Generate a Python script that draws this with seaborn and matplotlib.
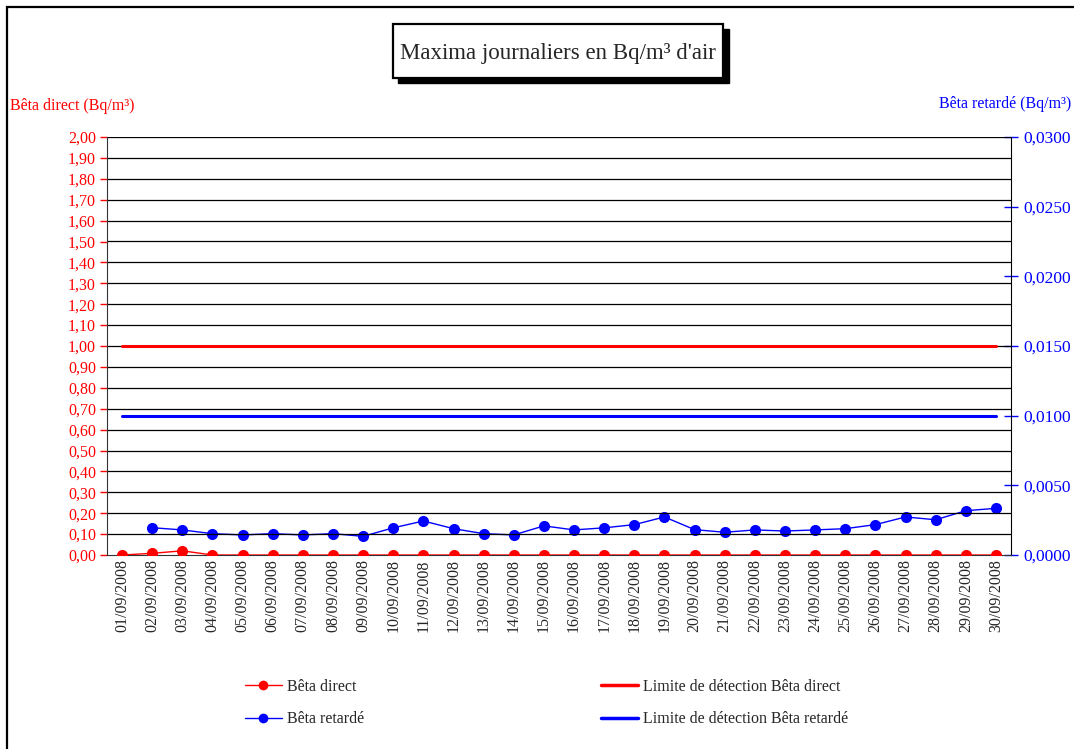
import numpy as np
import pandas as pd
import matplotlib
matplotlib.use("Agg")
import matplotlib.pyplot as plt
import seaborn as sns
from matplotlib.patches import Rectangle
from matplotlib.lines import Line2D
from matplotlib.ticker import FuncFormatter, MultipleLocator

# ---------------- data ----------------
dates = ["%02d/09/2008" % d for d in range(1, 31)]

beta_direct = [0.000, 0.008, 0.020, 0.000, 0.000, 0.000, 0.000, 0.000, 0.000, 0.000,
               0.000, 0.000, 0.000, 0.000, 0.000, 0.000, 0.000, 0.000, 0.000, 0.000,
               0.000, 0.000, 0.000, 0.000, 0.000, 0.000, 0.000, 0.000, 0.000, 0.000]

beta_retarde = [np.nan, 0.00196, 0.00180, 0.00153, 0.00144, 0.00153, 0.00144, 0.00153, 0.00134, 0.00195,
                0.00244, 0.00189, 0.00153, 0.00144, 0.00209, 0.00180, 0.00195, 0.00218, 0.00273, 0.00182,
                0.00163, 0.00180, 0.00172, 0.00180, 0.00189, 0.00218, 0.00273, 0.00253, 0.00318, 0.00335]

limite_direct = 1.0
limite_retarde = 0.0100

df = pd.DataFrame({
    "pos": np.arange(len(dates)),
    "date": dates,
    "direct": beta_direct,
    "retarde": beta_retarde,
    "lim_direct": limite_direct,
    "lim_retarde": limite_retarde,
})

# ---------------- style ----------------
sns.set_style("white")
plt.rcParams["font.family"] = ["Liberation Serif", "DejaVu Serif"]

W, H = 1074, 749
fig = plt.figure(figsize=(W / 100, H / 100), dpi=100)
ax = fig.add_axes([107 / W, 1 - 555 / H, (1011 - 107) / W, (555 - 137) / H])
ax2 = ax.twinx()

# outer frame of the chart
fig.patches.append(Rectangle((7 / W, -0.01), 1.2, 1 - 7 / H + 0.01, transform=fig.transFigure,
                             fill=False, edgecolor="black", linewidth=1.6, zorder=0))

# grid lines
for v in np.arange(0.1, 2.01, 0.1):
    ax.axhline(v, color="black", linewidth=0.9, zorder=0)

# left axis: Bêta direct
sns.lineplot(data=df, x="pos", y="lim_direct", ax=ax, color="#ff0000", linewidth=2.2, zorder=3)
sns.lineplot(data=df, x="pos", y="direct", ax=ax, color="#ff0000", linewidth=1.0,
             marker="o", markersize=8, markeredgewidth=0, zorder=4)

# right axis: Bêta retardé
sns.lineplot(data=df, x="pos", y="lim_retarde", ax=ax2, color="#0000ff", linewidth=2.2, zorder=3)
sns.lineplot(data=df.dropna(), x="pos", y="retarde", ax=ax2, color="#0000ff", linewidth=1.0,
             marker="o", markersize=8, markeredgewidth=0, zorder=4)

ax.set_xlim(-0.5, len(dates) - 0.5)
ax.set_ylim(0, 2.0)
ax2.set_ylim(0, 0.03)

ax.set_xlabel("")
ax.set_ylabel("")
ax2.set_ylabel("")

# x ticks between categories, labels centred under them
ax.set_xticks(np.arange(-0.5, len(dates), 1.0))
ax.set_xticklabels([])
ax.set_xticks(np.arange(len(dates)), minor=True)
ax.set_xticklabels(dates, minor=True, rotation=90, fontsize=11.5)
ax.tick_params(axis="x", which="major", direction="out", length=5, width=1, color="#333333")
ax.tick_params(axis="x", which="minor", length=0, pad=3)

ax.yaxis.set_major_locator(MultipleLocator(0.1))
ax.yaxis.set_major_formatter(FuncFormatter(lambda v, p: ("%.2f" % v).replace(".", ",")))
ax.tick_params(axis="y", direction="out", length=5, width=1, colors="#ff0000", labelsize=11.5, pad=3)
for t in ax.yaxis.get_ticklines():
    t.set_color("#333333")

ax2.yaxis.set_major_locator(MultipleLocator(0.005))
ax2.yaxis.set_major_formatter(FuncFormatter(lambda v, p: ("%.4f" % v).replace(".", ",")))
ax2.tick_params(axis="y", direction="inout", length=10, width=1, colors="#0000ff", labelsize=12.5, pad=4)
for t in ax2.yaxis.get_ticklines():
    t.set_color("#333333")

for a in (ax, ax2):
    for s in a.spines.values():
        s.set_visible(False)
ax.spines["left"].set_visible(True)
ax.spines["left"].set_color("#333333")
ax.spines["bottom"].set_visible(True)
ax.spines["bottom"].set_color("#333333")
ax2.spines["right"].set_visible(True)
ax2.spines["right"].set_color("black")
ax.set_zorder(ax2.get_zorder() + 1)
ax.patch.set_visible(False)
ax2.patch.set_visible(True)
ax2.patch.set_facecolor("white")

# axis titles
fig.text(10 / W, 1 - 106 / H, "Bêta direct (Bq/m³)", color="#ff0000", fontsize=11.5,
         ha="left", va="center")
fig.text(1071 / W, 1 - 104 / H, "Bêta retardé (Bq/m³)", color="#0000ff", fontsize=11.5,
         ha="right", va="center")

# title box with shadow
fig.patches.append(Rectangle((398 / W, 1 - 83 / H), 331 / W, 54 / H, transform=fig.transFigure,
                             facecolor="black", edgecolor="black", zorder=1))
fig.patches.append(Rectangle((393 / W, 1 - 78 / H), 330 / W, 54 / H, transform=fig.transFigure,
                             facecolor="white", edgecolor="black", linewidth=1.6, zorder=2))
fig.text(558 / W, 1 - 54 / H, "Maxima journaliers en Bq/m³ d'air", fontsize=16.5,
         ha="center", va="center", zorder=3)

# legend
handles = [
    Line2D([], [], color="#ff0000", linewidth=1.0, marker="o", markersize=7, markeredgewidth=0),
    Line2D([], [], color="#0000ff", linewidth=1.0, marker="o", markersize=7, markeredgewidth=0),
    Line2D([], [], color="#ff0000", linewidth=2.5),
    Line2D([], [], color="#0000ff", linewidth=2.5),
]
labels = ["Bêta direct", "Bêta retardé",
          "Limite de détection Bêta direct", "Limite de détection Bêta retardé"]
fig.legend(handles, labels, ncol=2, frameon=False, fontsize=11.5,
           loc="center left", bbox_to_anchor=(245 / W, 1 - 703 / H),
           handlelength=2.3, handletextpad=0.35, columnspacing=14.8,
           labelspacing=1.05, borderpad=0, borderaxespad=0)

fig.savefig("out.png", dpi=100, facecolor="white")
